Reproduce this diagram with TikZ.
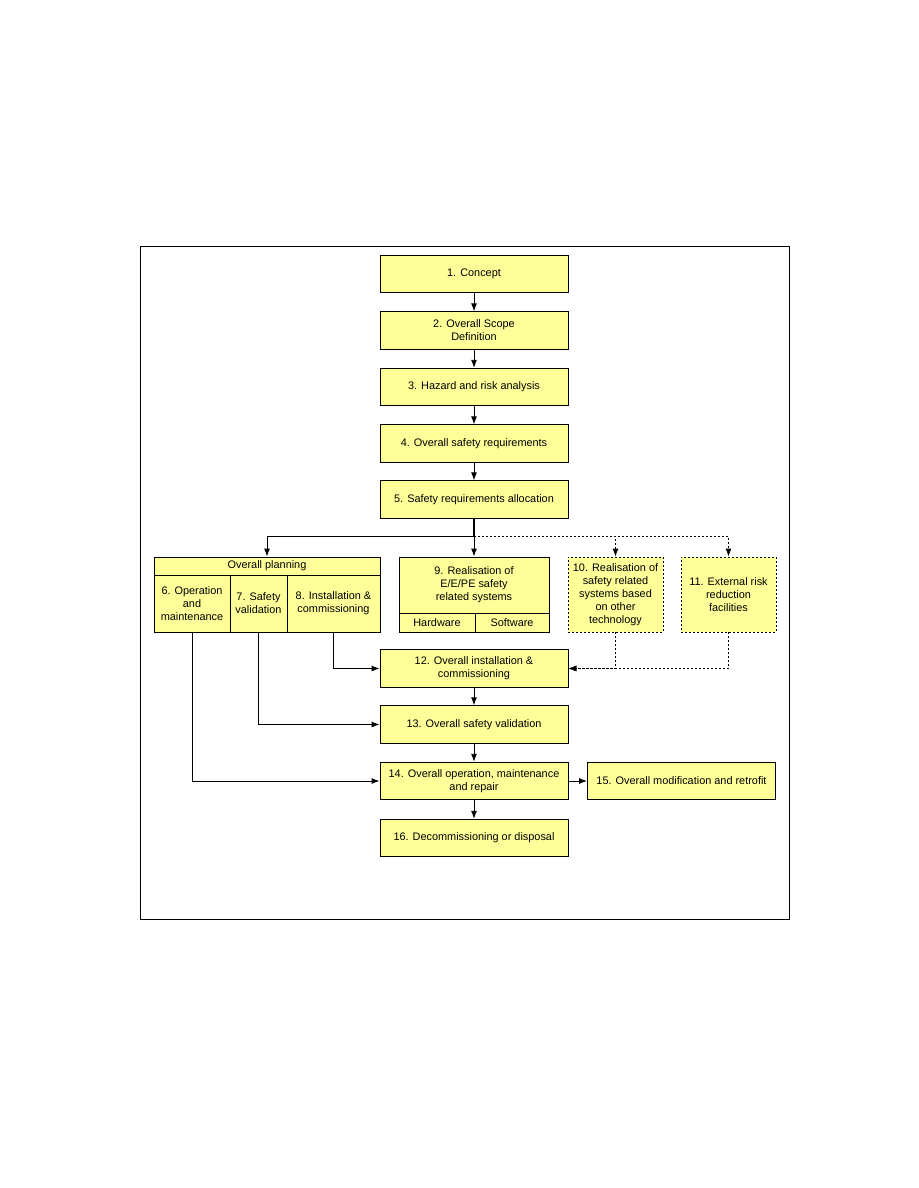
\documentclass[tikz,border=0pt]{standalone}
\usepackage{fontspec}
\setmainfont{Liberation Sans}
\usetikzlibrary{arrows.meta}
\definecolor{boxfill}{HTML}{FFFF99}
\begin{document}
\begin{tikzpicture}[x={(1pt,0)},y={(0,-1pt)},
  font=\fontsize{10.9}{13}\selectfont,
  box/.style={draw=black,line width=0.9pt,fill=boxfill,align=center,inner sep=0pt,minimum width=188pt,minimum height=37.5pt},
  cell/.style={draw=black,line width=0.9pt,fill=boxfill,align=center,inner sep=0pt},
  dbox/.style={cell,dash pattern=on 2pt off 2pt},
  arr/.style={draw=black,line width=0.9pt,-{Latex[length=8pt,width=6pt]}},
  darr/.style={arr,dash pattern=on 2pt off 2pt}]
\useasboundingbox (0,0) rectangle (918,1188);
\draw[line width=0.9pt] (140,246) rectangle (789,919);
% main column
\node[box] (b1) at (474,274) {1. Concept};
\node[box] (b2) at (474,330.5) {2. Overall Scope\\Definition};
\node[box] (b3) at (474,387) {3. Hazard and risk analysis};
\node[box] (b4) at (474,443.5) {4. Overall safety requirements};
\node[box] (b5) at (474,499.5) {5. Safety requirements allocation};
% overall planning
\node[cell,minimum width=226pt,minimum height=18pt] (plan) at (267,566) {Overall planning};
\node[cell,minimum width=76pt,minimum height=57pt] (p6) at (192,603.5) {6. Operation\\and\\maintenance};
\node[cell,minimum width=57pt,minimum height=57pt] (p7) at (258.5,603.5) {7. Safety\\validation};
\node[cell,minimum width=93pt,minimum height=57pt] (p8) at (333.5,603.5) {8. Installation \&\\commissioning};
% box 9
\node[cell,minimum width=150pt,minimum height=56pt] (b9) at (474,585) {9. Realisation of\\E/E/PE safety\\related systems};
\node[cell,minimum width=76pt,minimum height=19pt] (hw) at (437,622.5) {Hardware};
\node[cell,minimum width=74pt,minimum height=19pt] (sw) at (512,622.5) {Software};
% dashed boxes
\node[dbox,minimum width=95pt,minimum height=75pt] (b10) at (615.5,594.5) {10. Realisation of\\safety related\\systems based\\on other\\technology};
\node[dbox,minimum width=95pt,minimum height=75pt] (b11) at (728.5,594.5) {11. External risk\\reduction\\facilities};
% lower column
\node[box] (b12) at (474,668.5) {12. Overall installation \&\\commissioning};
\node[box] (b13) at (474,724.5) {13. Overall safety validation};
\node[box] (b14) at (474,781) {14. Overall operation, maintenance\\and repair};
\node[box] (b15) at (681.5,781) {15. Overall modification and retrofit};
\node[box] (b16) at (474,838) {16. Decommissioning or disposal};
% connectors
\draw[arr] (b1) -- (b2);
\draw[arr] (b2) -- (b3);
\draw[arr] (b3) -- (b4);
\draw[arr] (b4) -- (b5);
\coordinate (j) at (474,536);
\draw[line width=2pt] (b5.south) -- (j);
\draw[arr] (j) -| (plan.north);
\draw[arr] (j) -- (b9.north);
\draw[darr] (j) -| (b10.north);
\draw[darr] (j) -| (b11.north);
\draw[darr] (b10.south) |- (b12.east);
\draw[darr] (b11.south) |- (b12.east);
\draw[arr] (p8.south) |- (b12.west);
\draw[arr] (p7.south) |- (b13.west);
\draw[arr] (p6.south) |- (b14.west);
\draw[arr] (b12) -- (b13);
\draw[arr] (b13) -- (b14);
\draw[arr] (b14) -- (b15);
\draw[arr] (b14) -- (b16);
\end{tikzpicture}
\end{document}
